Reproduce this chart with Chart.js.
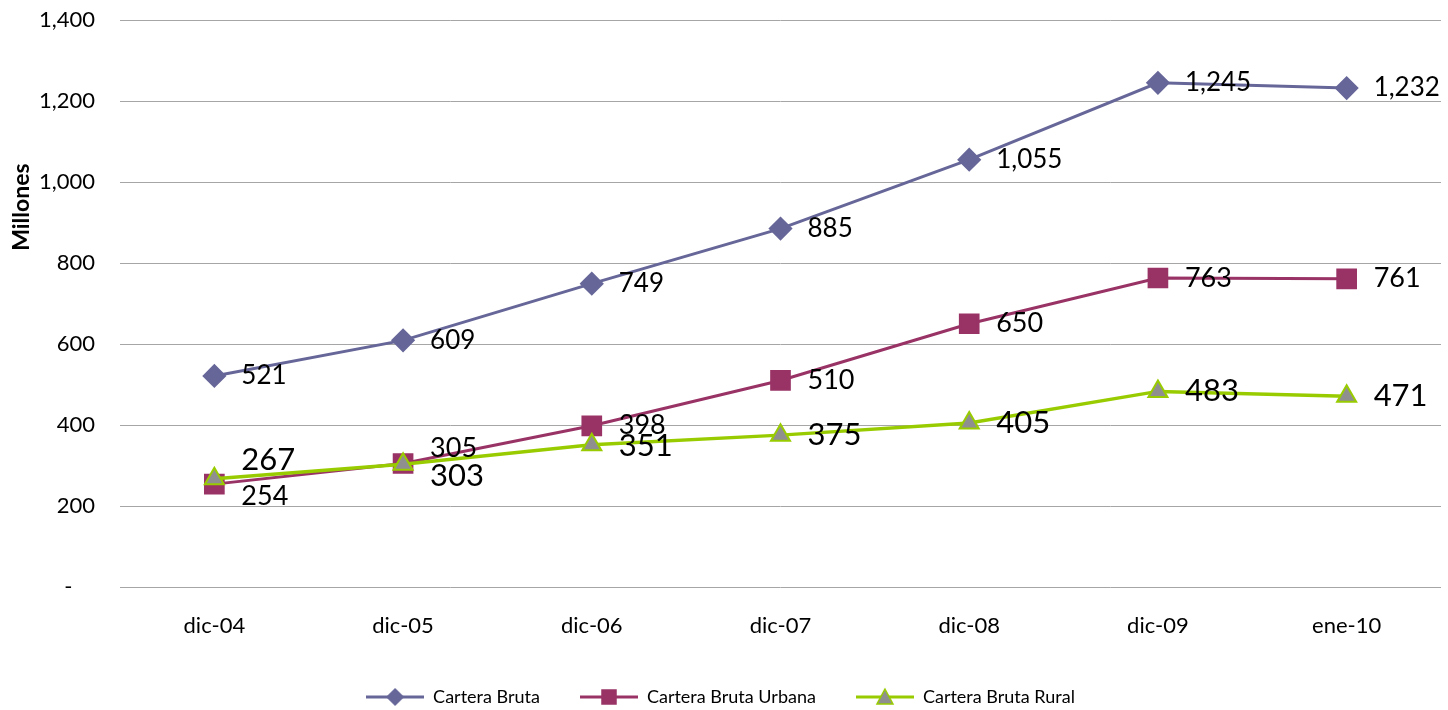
<!DOCTYPE html>
<html>
<head>
<meta charset="utf-8">
<script src="https://cdn.jsdelivr.net/npm/chart.js@4.4.1/dist/chart.umd.min.js"></script>
<style>
  html, body { margin: 0; padding: 0; background: #fff; }
  #wrap { width: 1448px; height: 710px; position: relative; }
</style>
</head>
<body>
<div id="wrap"><canvas id="chart"></canvas></div>
<script>
const categories = ['dic-04', 'dic-05', 'dic-06', 'dic-07', 'dic-08', 'dic-09', 'ene-10'];
const carteraBruta = [521, 609, 749, 885, 1055, 1245, 1232];
const carteraUrbana = [254, 305, 398, 510, 650, 763, 761];
const carteraRural = [267, 303, 351, 375, 405, 483, 471];
const seriesNames = ['Cartera Bruta', 'Cartera Bruta Urbana', 'Cartera Bruta Rural'];
const axisTitle = 'Millones';

// desplazamiento vertical de las etiquetas (solo donde se pisan)
const labelShift = [
    [0, 0, 0, 0, 0, 0, 0],
    [12, -15, -1, 0, 0, 0, 0],
    [-19, 12, 1, 0, 0, 0, 0]
];
const labelSize = [26, 27, 31];

const FONT = 'Lato, "Noto Sans", sans-serif';
const ctx = document.getElementById('chart').getContext('2d');

// icono de leyenda: línea con marcador
function legendIcon(color, style, fill, border) {
    const c = document.createElement('canvas');
    c.width = 58; c.height = 22;
    const g = c.getContext('2d');
    g.strokeStyle = color;
    g.lineWidth = 3;
    g.beginPath(); g.moveTo(0, 11); g.lineTo(58, 11); g.stroke();
    g.fillStyle = fill;
    g.strokeStyle = border;
    g.lineWidth = 1.5;
    g.beginPath();
    if (style === 'diamond') {
        g.moveTo(29, 3); g.lineTo(37, 11); g.lineTo(29, 19); g.lineTo(21, 11);
    } else if (style === 'square') {
        g.rect(22, 4, 14, 14);
    } else {
        g.moveTo(29, 3); g.lineTo(37, 18); g.lineTo(21, 18);
    }
    g.closePath(); g.fill(); g.stroke();
    return c;
}

const icons = [
    legendIcon('#666699', 'diamond', '#666699', '#666699'),
    legendIcon('#993366', 'square', '#993366', '#993366'),
    legendIcon('#99CC00', 'triangle', '#8F8F8F', '#99CC00')
];

const valueLabels = {
    id: 'valueLabels',
    afterDatasetsDraw(chart) {
        const c = chart.ctx;
        c.save();
        c.fillStyle = '#000';
        c.textAlign = 'left';
        c.textBaseline = 'middle';
        chart.data.datasets.forEach((ds, i) => {
            const meta = chart.getDatasetMeta(i);
            c.font = labelSize[i] + 'px ' + FONT;
            meta.data.forEach((pt, j) => {
                c.fillText(ds.data[j].toLocaleString('en-US'), pt.x + 27, pt.y + labelShift[i][j]);
            });
        });
        c.restore();
    }
};

// título del eje Y, algo por encima del centro como en el original
const yTitle = {
    id: 'yTitle',
    afterDraw(chart) {
        const c = chart.ctx;
        const a = chart.chartArea;
        c.save();
        c.translate(22, a.top + (a.bottom - a.top) * 0.33);
        c.rotate(-Math.PI / 2);
        c.font = 'bold 23px ' + FONT;
        c.fillStyle = '#000';
        c.textAlign = 'center';
        c.textBaseline = 'middle';
        c.fillText(axisTitle, 0, 0);
        c.restore();
    }
};

function noPadding(scale) {
    scale.paddingLeft = 0;
    scale.paddingRight = 0;
    scale.paddingTop = 0;
    scale.paddingBottom = 0;
}

new Chart(ctx, {
    type: 'line',
    data: {
        labels: categories,
        datasets: [{
            label: seriesNames[0],
            data: carteraBruta,
            borderColor: '#666699',
            backgroundColor: '#666699',
            borderWidth: 3,
            pointStyle: 'rectRot',
            pointRadius: 10,
            pointBackgroundColor: '#666699',
            pointBorderColor: '#666699',
            order: 2,
        }, {
            label: seriesNames[1],
            data: carteraUrbana,
            borderColor: '#993366',
            backgroundColor: '#993366',
            borderWidth: 3,
            pointStyle: 'rect',
            pointRadius: 12.5,
            pointBackgroundColor: '#993366',
            pointBorderColor: '#993366',
            order: 1,
        }, {
            label: seriesNames[2],
            data: carteraRural,
            borderColor: '#99CC00',
            backgroundColor: '#8F8F8F',
            borderWidth: 3.5,
            pointStyle: 'triangle',
            pointRadius: 11,
            pointBackgroundColor: '#8F8F8F',
            pointBorderColor: '#99CC00',
            pointBorderWidth: 2,
            order: 0,
        }],
    },
    options: {
        responsive: true,
        maintainAspectRatio: false,
        animation: false,
        layout: {
            autoPadding: false,
            padding: { top: 20, right: 7, left: 0, bottom: -6 },
        },
        plugins: {
            tooltip: { enabled: false },
            legend: {
                position: 'bottom',
                labels: {
                    usePointStyle: true,
                    pointStyleWidth: 58,
                    boxHeight: 16,
                    padding: 40,
                    color: '#000',
                    font: { family: FONT, size: 18 },
                    generateLabels: (chart) => chart.data.datasets.map((ds, i) => ({
                        text: ds.label,
                        pointStyle: icons[i],
                        fillStyle: ds.borderColor,
                        strokeStyle: ds.borderColor,
                        lineWidth: 0,
                        hidden: false,
                        datasetIndex: i,
                        fontColor: '#000',
                    })),
                },
            },
        },
        scales: {
            x: {
                offset: true,
                grid: { display: false },
                border: { display: false },
                ticks: { color: '#000', font: { family: FONT, size: 22 }, padding: 18 },
                afterFit: (scale) => {
                    scale.height = 61;
                    noPadding(scale);
                },
            },
            y: {
                min: 0,
                max: 1400,
                border: { display: false },
                grid: { color: '#A6A6A6', lineWidth: 1, drawTicks: false },
                ticks: {
                    stepSize: 200,
                    color: '#000',
                    padding: 25,
                    font: { family: FONT, size: 22 },
                    callback: (v) => v === 0 ? '-    ' : v.toLocaleString('en-US'),
                },
                afterFit: (scale) => {
                    scale.width = 120;
                    noPadding(scale);
                },
            },
        },
    },
    plugins: [valueLabels, yTitle],
});
</script>
</body>
</html>
